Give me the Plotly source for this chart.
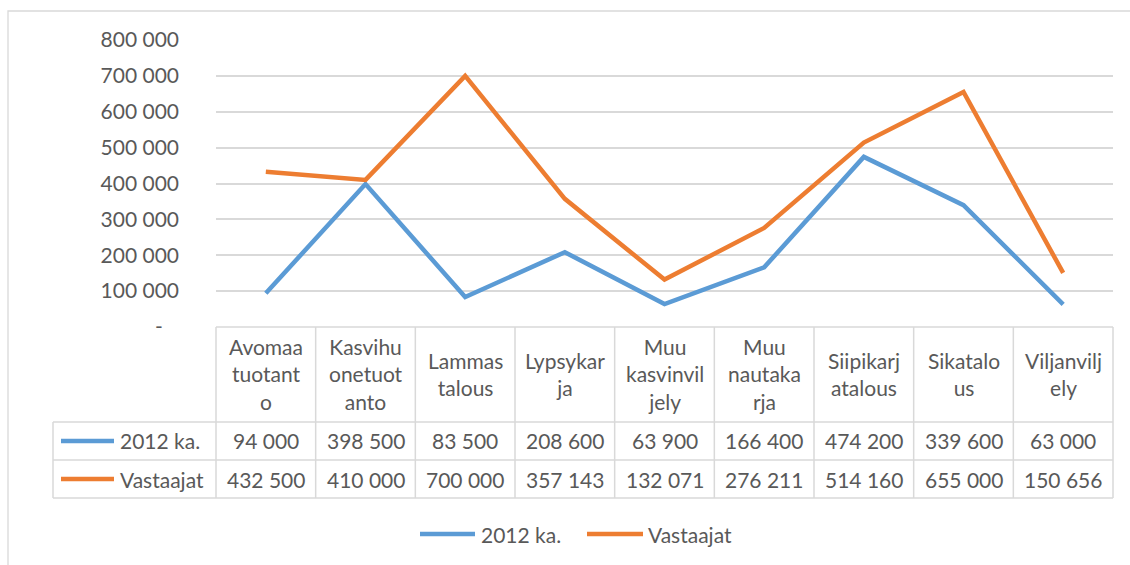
import plotly.graph_objects as go

# ---- data ----
categories = ["Avomaa tuotanto", "Kasvihuonetuotanto", "Lammastalous", "Lypsykarja",
              "Muu kasvinviljely", "Muu nautakarja", "Siipikarjatalous", "Sikatalous",
              "Viljanviljely"]
header_labels = ["Avomaa<br>tuotant<br>o", "Kasvihu<br>onetuot<br>anto", "Lammas<br>talous",
                 "Lypsykar<br>ja", "Muu<br>kasvinvil<br>jely", "Muu<br>nautaka<br>rja",
                 "Siipikarj<br>atalous", "Sikatalo<br>us", "Viljanvilj<br>ely"]
series_names = ["2012 ka.", "Vastaajat"]
s2012 = [94000, 398500, 83500, 208600, 63900, 166400, 474200, 339600, 63000]
vastaajat = [432500, 410000, 700000, 357143, 132071, 276211, 514160, 655000, 150656]
tick_vals = [0, 100000, 200000, 300000, 400000, 500000, 600000, 700000, 800000]
tick_text = ["-   ", "100 000", "200 000", "300 000", "400 000", "500 000",
             "600 000", "700 000", "800 000"]

colors = ["#5B9BD5", "#ED7D31"]
W, H = 1130, 565
FONT = "Lato"
TXT = "#595959"
GRID = "#D9D9D9"

def px(x):
    return x / W

def py(y):
    return 1 - y / H

x0, x1 = 216, 1113
y_top, y_zero = 40, 327
row_y = [327, 422, 460, 498]
table_left = 53
ncat = len(categories)
colw = (x1 - x0) / ncat

fig = go.Figure()
for name, vals, c in zip(series_names, [s2012, vastaajat], colors):
    fig.add_trace(go.Scatter(x=categories, y=vals, mode="lines", name=name,
                             line=dict(color=c, width=4.5), showlegend=False))

shapes = []
annotations = []
line_style = dict(color=GRID, width=1.5)

# outer chart border
shapes.append(dict(type="rect", xref="paper", yref="paper", x0=px(8), x1=px(1145),
                   y0=py(580), y1=py(11), line=dict(color=GRID, width=1.3)))

# table horizontal lines
shapes.append(dict(type="line", xref="paper", yref="paper", x0=px(x0), x1=px(x1),
                   y0=py(row_y[0]), y1=py(row_y[0]), line=line_style))
for ry in row_y[1:]:
    shapes.append(dict(type="line", xref="paper", yref="paper", x0=px(table_left), x1=px(x1),
                       y0=py(ry), y1=py(ry), line=line_style))
# vertical lines
shapes.append(dict(type="line", xref="paper", yref="paper", x0=px(table_left), x1=px(table_left),
                   y0=py(row_y[1]), y1=py(row_y[3]), line=line_style))
for i in range(ncat + 1):
    xx = x0 + i * colw
    shapes.append(dict(type="line", xref="paper", yref="paper", x0=px(xx), x1=px(xx),
                       y0=py(row_y[0]), y1=py(row_y[3]), line=line_style))

# header labels
for i, lab in enumerate(header_labels):
    cx = x0 + (i + 0.5) * colw
    annotations.append(dict(xref="paper", yref="paper", x=px(cx), y=py((row_y[0] + row_y[1]) / 2 - 1),
                            text=lab, showarrow=False, xanchor="center", yanchor="middle",
                            font=dict(family=FONT, size=21, color=TXT)))

# value rows (with legend keys)
for r, (name, vals, c) in enumerate(zip(series_names, [s2012, vastaajat], colors)):
    cy = (row_y[1 + r] + row_y[2 + r]) / 2
    shapes.append(dict(type="line", xref="paper", yref="paper", x0=px(61), x1=px(114),
                       y0=py(cy), y1=py(cy), line=dict(color=c, width=4.5)))
    annotations.append(dict(xref="paper", yref="paper", x=px(118), y=py(cy), text=name,
                            showarrow=False, xanchor="left", yanchor="middle",
                            font=dict(family=FONT, size=21, color=TXT)))
    for i, v in enumerate(vals):
        cx = x0 + (i + 0.5) * colw
        annotations.append(dict(xref="paper", yref="paper", x=px(cx), y=py(cy),
                                text=f"{v:,}".replace(",", " "), showarrow=False,
                                xanchor="center", yanchor="middle",
                                font=dict(family=FONT, size=21, color=TXT)))

# bottom legend
legend_y = 534
legend_items = [(420, 475, 479), (587, 643, 646)]
for (lx0, lx1, tx), name, c in zip(legend_items, series_names, colors):
    shapes.append(dict(type="line", xref="paper", yref="paper", x0=px(lx0), x1=px(lx1),
                       y0=py(legend_y), y1=py(legend_y), line=dict(color=c, width=4.5)))
    annotations.append(dict(xref="paper", yref="paper", x=px(tx), y=py(legend_y), text=name,
                            showarrow=False, xanchor="left", yanchor="middle",
                            font=dict(family=FONT, size=21, color=TXT)))

fig.update_layout(
    width=W, height=H,
    margin=dict(l=0, r=0, t=0, b=0, autoexpand=False),
    paper_bgcolor="white", plot_bgcolor="white",
    font=dict(family=FONT, size=21, color=TXT),
    xaxis=dict(domain=[px(x0), px(x1)], range=[-0.5, ncat - 0.5], showticklabels=False,
               showgrid=False, zeroline=False, showline=False, ticks="", automargin=False),
    yaxis=dict(domain=[py(y_zero), py(y_top)], range=[0, 800000], tickvals=tick_vals,
               ticktext=tick_text, showgrid=True, gridcolor=GRID, gridwidth=1.5,
               zeroline=False, showline=False, ticks="", ticklabelstandoff=36,
               automargin=False,
               tickfont=dict(family=FONT, size=21, color=TXT)),
    showlegend=False,
    shapes=shapes,
    annotations=annotations,
)

fig.write_html("out.html", config={"displayModeBar": False},
               post_script="document.body.style.margin='0';")
